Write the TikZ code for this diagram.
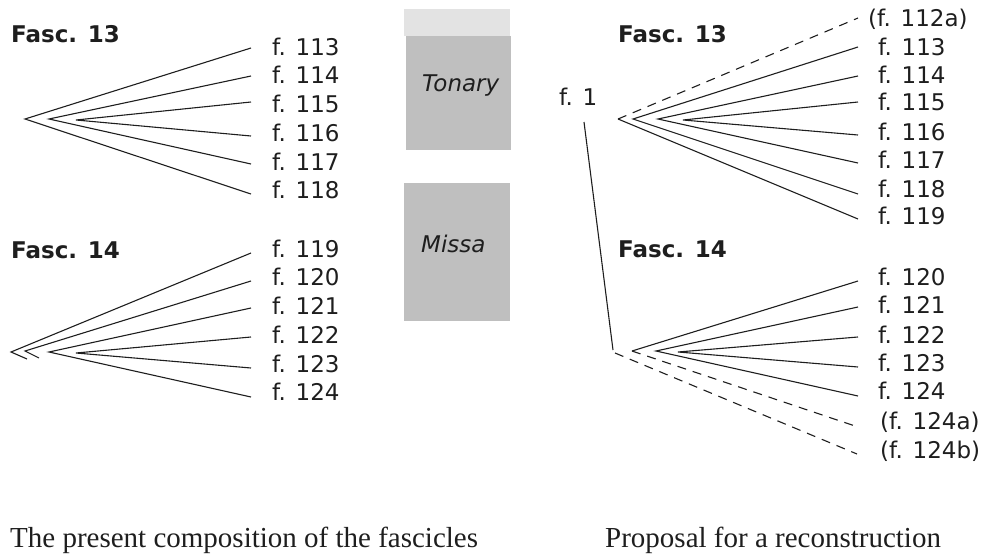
\documentclass[tikz,border=0pt]{standalone}
\usepackage{fontspec}
\setsansfont{DejaVu Sans}
\setmainfont{Liberation Serif}
\definecolor{txt}{HTML}{1E1E1E}
\definecolor{boxgray}{HTML}{BFBFBF}
\definecolor{boxlight}{HTML}{E3E3E3}
\tikzset{
  lbl/.style={font=\sffamily\fontsize{23}{27}\selectfont, text=txt, inner sep=0pt, anchor=base west},
  head/.style={lbl, font=\sffamily\bfseries\fontsize{23}{27}\selectfont},
  itl/.style={lbl, font=\sffamily\itshape\fontsize{23}{27}\selectfont},
  capt/.style={font=\rmfamily\fontsize{29}{34}\selectfont, text=txt, inner sep=0pt, anchor=base west},
  br/.style={line width=1.1pt, draw=txt},
  brd/.style={br, dash pattern=on 9pt off 7pt},
}
\begin{document}
\begin{tikzpicture}[x=1pt,y=-1pt]
\useasboundingbox (0,0) rectangle (987,554);

% ---------- left: Fasc. 13 ----------
\node[head] (lf13) at (11,42) {Fasc. 13};
\coordinate (La) at (25,119);
\coordinate (Lb) at (49,119);
\coordinate (Lc) at (76,120);
\coordinate (e113) at (251,48);
\coordinate (e114) at (251,76);
\coordinate (e115) at (251,102);
\coordinate (e116) at (251,136);
\coordinate (e117) at (251,164);
\coordinate (e118) at (251,194);
\node[lbl] (l113) at (272,55) {f. 113};
\node[lbl] (l114) at (272,83) {f. 114};
\node[lbl] (l115) at (272,112) {f. 115};
\node[lbl] (l116) at (272,141) {f. 116};
\node[lbl] (l117) at (272,170) {f. 117};
\node[lbl] (l118) at (272,198) {f. 118};
\draw[br] (e113) -- (La) -- (e118);
\draw[br] (e114) -- (Lb) -- (e117);
\draw[br] (e115) -- (Lc) -- (e116);

% ---------- left: Fasc. 14 ----------
\node[head] (lf14) at (11,258) {Fasc. 14};
\coordinate (Qa) at (11,352);
\coordinate (Qb) at (25,351);
\coordinate (Qc) at (49,352);
\coordinate (Qd) at (76,353);
\coordinate (qa) at (27,359);
\coordinate (qb) at (39,358);
\coordinate (e119) at (251,253);
\coordinate (e120) at (251,281);
\coordinate (e121) at (251,308);
\coordinate (e122) at (251,337);
\coordinate (e123) at (251,368);
\coordinate (e124) at (251,397);
\node[lbl] (l119) at (272,257) {f. 119};
\node[lbl] (l120) at (272,285) {f. 120};
\node[lbl] (l121) at (272,314) {f. 121};
\node[lbl] (l122) at (272,343) {f. 122};
\node[lbl] (l123) at (272,372) {f. 123};
\node[lbl] (l124) at (272,400) {f. 124};
\draw[br] (e119) -- (Qa) -- (qa);
\draw[br] (e120) -- (Qb) -- (qb);
\draw[br] (e121) -- (Qc) -- (e124);
\draw[br] (e122) -- (Qd) -- (e123);

% ---------- middle boxes ----------
\fill[boxlight] (404,9) rectangle (510,36);
\fill[boxgray] (406,36) rectangle (511,150);
\fill[boxgray] (404,183) rectangle (510,321);
\node[itl] (tonary) at (422,91) {Tonary};
\node[itl] (missa) at (421,252) {Missa};

% ---------- right: f. 1 ----------
\node[lbl] (f1) at (559,105) {f. 1};
\coordinate (f1top) at (584,122);
\coordinate (f1bot) at (613,350);
\draw[br] (f1top) -- (f1bot);

% ---------- right: Fasc. 13 ----------
\node[head] (rf13) at (618,42) {Fasc. 13};
\coordinate (Ra) at (618,119);
\coordinate (Rb) at (633,119);
\coordinate (Rc) at (658,119);
\coordinate (Rd) at (683,120);
\coordinate (r112a) at (858,18);
\coordinate (r113) at (858,47);
\coordinate (r114) at (858,76);
\coordinate (r115) at (858,102);
\coordinate (r116) at (858,135);
\coordinate (r117) at (858,163);
\coordinate (r118) at (858,194);
\coordinate (r119) at (858,219);
\node[lbl] (m112a) at (868,27) {(f. 112a)};
\node[lbl] (m113) at (878,55) {f. 113};
\node[lbl] (m114) at (878,83) {f. 114};
\node[lbl] (m115) at (878,110) {f. 115};
\node[lbl] (m116) at (878,140) {f. 116};
\node[lbl] (m117) at (878,168) {f. 117};
\node[lbl] (m118) at (878,197) {f. 118};
\node[lbl] (m119) at (878,224) {f. 119};
\draw[brd] (Ra) -- (r112a);
\draw[br] (Ra) -- (r119);
\draw[br] (r113) -- (Rb) -- (r118);
\draw[br] (r114) -- (Rc) -- (r117);
\draw[br] (r115) -- (Rd) -- (r116);

% ---------- right: Fasc. 14 ----------
\node[head] (rf14) at (618,257) {Fasc. 14};
\coordinate (Sa) at (615,353);
\coordinate (Sb) at (632,351);
\coordinate (Sc) at (656,351);
\coordinate (Sd) at (678,352);
\coordinate (s120) at (858,281);
\coordinate (s121) at (858,307);
\coordinate (s122) at (858,337);
\coordinate (s123) at (858,367);
\coordinate (s124) at (858,396);
\coordinate (s124a) at (858,427);
\coordinate (s124b) at (857,454);
\node[lbl] (n120) at (878,285) {f. 120};
\node[lbl] (n121) at (878,313) {f. 121};
\node[lbl] (n122) at (878,343) {f. 122};
\node[lbl] (n123) at (878,371) {f. 123};
\node[lbl] (n124) at (878,399) {f. 124};
\node[lbl] (n124a) at (880,429) {(f. 124a)};
\node[lbl] (n124b) at (880,458) {(f. 124b)};
\draw[brd] (Sa) -- (s124b);
\draw[br] (s120) -- (Sb);
\draw[brd] (Sb) -- (s124a);
\draw[br] (s121) -- (Sc) -- (s124);
\draw[br] (s122) -- (Sd) -- (s123);

% ---------- captions ----------
\node[capt] (capL) at (10,547) {The present composition of the fascicles};
\node[capt] (capR) at (605,547) {Proposal for a reconstruction};
\end{tikzpicture}
\end{document}
